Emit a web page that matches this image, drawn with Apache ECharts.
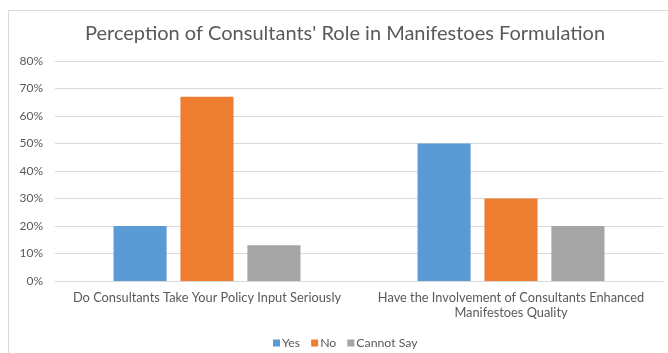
<!DOCTYPE html>
<html>
<head>
<meta charset="utf-8">
<script src="https://cdn.jsdelivr.net/npm/echarts@6/dist/echarts.min.js"></script>
<style>
  html, body { margin: 0; padding: 0; background: #fff; }
  #chart { width: 668px; height: 353px; }
</style>
</head>
<body>
<div id="chart"></div>
<script>
var categories = [
  'Do Consultants Take Your Policy Input Seriously',
  'Have the Involvement of Consultants Enhanced\nManifestoes Quality'
];
var yesValues = [20, 50];
var noValues = [67, 30];
var cannotSayValues = [13, 20];
var yTicks = [0, 10, 20, 30, 40, 50, 60, 70, 80];

var chart = echarts.init(document.getElementById('chart'));
var font = 'Lato';
var textColor = '#595959';

var option = {
  backgroundColor: '#fff',
  textStyle: { fontFamily: font },
  graphic: [
    {
      type: 'rect',
      shape: { x: 8.5, y: 10.5, width: 680, height: 360 },
      style: { fill: 'none', stroke: '#d9d9d9', lineWidth: 1 },
      silent: true
    }
  ],
  title: {
    text: "Perception of Consultants' Role in Manifestoes Formulation",
    left: 80,
    top: 19,
    textStyle: { fontFamily: font, fontSize: 20, fontWeight: 'normal', color: textColor }
  },
  legend: {
    top: 332,
    left: 268,
    itemWidth: 7,
    itemHeight: 7,
    itemGap: 11,
    icon: 'rect',
    textStyle: { fontFamily: font, fontSize: 12.3, color: textColor, padding: [0, 0, 0, -3] },
    data: ['Yes', 'No', 'Cannot Say']
  },
  grid: { left: 55, right: 5, top: 61, bottom: 72, containLabel: false },
  xAxis: {
    type: 'category',
    data: categories,
    axisTick: { show: false },
    axisLine: { lineStyle: { color: '#d9d9d9' } },
    axisLabel: {
      interval: 0,
      margin: 9,
      fontFamily: font,
      fontSize: 12.8,
      lineHeight: 15,
      color: textColor
    }
  },
  yAxis: {
    type: 'value',
    min: yTicks[0],
    max: yTicks[yTicks.length - 1],
    interval: 10,
    axisLine: { show: false },
    axisTick: { show: false },
    splitLine: { lineStyle: { color: '#d9d9d9' } },
    axisLabel: {
      margin: 12,
      fontFamily: font,
      fontSize: 12,
      color: textColor,
      formatter: function (v) { return v + '%'; }
    }
  },
  series: [
    {
      name: 'Yes', type: 'bar', data: yesValues,
      itemStyle: { color: '#5b9bd5' },
      barGap: '26%', barCategoryGap: '38.5%'
    },
    {
      name: 'No', type: 'bar', data: noValues,
      itemStyle: { color: '#ed7d31' }
    },
    {
      name: 'Cannot Say', type: 'bar', data: cannotSayValues,
      itemStyle: { color: '#a5a5a5' }
    }
  ]
};
chart.setOption(option);
</script>
</body>
</html>
